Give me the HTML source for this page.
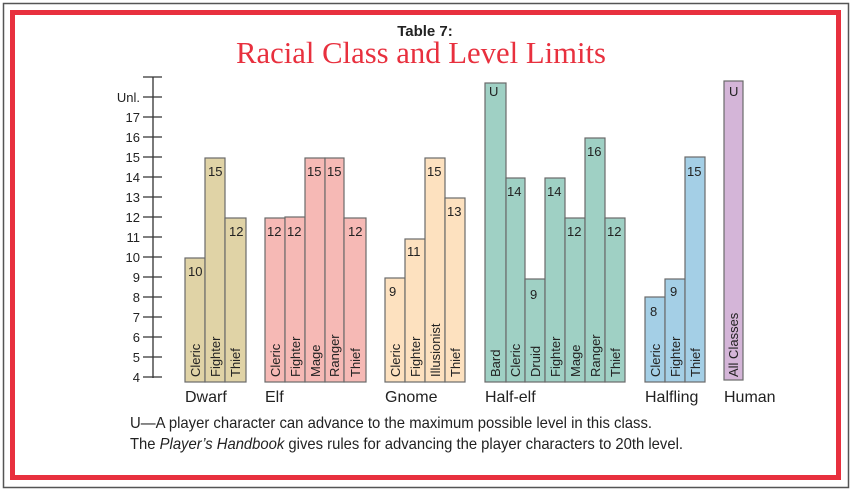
<!DOCTYPE html>
<html><head><meta charset="utf-8"><style>
body{margin:0;background:#fff}
svg{display:block}
text{font-family:"Liberation Sans Narrow","Liberation Sans",sans-serif;fill:#222}
</style></head><body>
<svg width="851" height="491" xmlns="http://www.w3.org/2000/svg">
<rect x="3.5" y="3.5" width="845" height="484" fill="#fff" stroke="#555" stroke-width="1.5"/>
<rect x="12.5" y="12.5" width="826" height="465" fill="none" stroke="#e8303e" stroke-width="5"/>
<text x="425" y="36" text-anchor="middle" font-family="Liberation Sans" font-weight="bold" font-size="15" style="font-family:'Liberation Sans',sans-serif">Table 7:</text>
<text x="236" y="63" textLength="370" lengthAdjust="spacingAndGlyphs" font-size="31" style="font-family:'Liberation Serif',serif;fill:#e8303e">Racial Class and Level Limits</text>
<g stroke="#333" stroke-width="1.3">
<line x1="153" y1="77" x2="153" y2="378"/>
<line x1="143" y1="77" x2="162" y2="77"/>
<line x1="143" y1="97" x2="162" y2="97"/>
<line x1="143" y1="117" x2="162" y2="117"/>
<line x1="143" y1="137" x2="162" y2="137"/>
<line x1="143" y1="157" x2="162" y2="157"/>
<line x1="143" y1="177" x2="162" y2="177"/>
<line x1="143" y1="197" x2="162" y2="197"/>
<line x1="143" y1="217" x2="162" y2="217"/>
<line x1="143" y1="237" x2="162" y2="237"/>
<line x1="143" y1="257" x2="162" y2="257"/>
<line x1="143" y1="277" x2="162" y2="277"/>
<line x1="143" y1="297" x2="162" y2="297"/>
<line x1="143" y1="317" x2="162" y2="317"/>
<line x1="143" y1="337" x2="162" y2="337"/>
<line x1="143" y1="357" x2="162" y2="357"/>
<line x1="143" y1="377" x2="162" y2="377"/>
</g>
<g font-size="13" text-anchor="end">
<text x="140" y="102">Unl.</text><text x="140" y="122">17</text><text x="140" y="142">16</text><text x="140" y="162">15</text><text x="140" y="182">14</text><text x="140" y="202">13</text><text x="140" y="222">12</text><text x="140" y="242">11</text><text x="140" y="262">10</text><text x="140" y="282">9</text><text x="140" y="302">8</text><text x="140" y="322">7</text><text x="140" y="342">6</text><text x="140" y="362">5</text><text x="140" y="382">4</text>
</g>
<g stroke="#6a6a6a" stroke-width="1.2">
<rect x="185" y="258" width="20" height="124" fill="#e0d3a6"/>
<rect x="205" y="158" width="20" height="224" fill="#e0d3a6"/>
<rect x="225" y="218" width="21" height="164" fill="#e0d3a6"/>
<rect x="265" y="218" width="20" height="164" fill="#f6b9b5"/>
<rect x="285" y="217" width="20" height="165" fill="#f6b9b5"/>
<rect x="305" y="158" width="20" height="224" fill="#f6b9b5"/>
<rect x="325" y="158" width="19" height="224" fill="#f6b9b5"/>
<rect x="344" y="218" width="22" height="164" fill="#f6b9b5"/>
<rect x="385" y="278" width="20" height="104" fill="#fde1bf"/>
<rect x="405" y="239" width="20" height="143" fill="#fde1bf"/>
<rect x="425" y="158" width="20" height="224" fill="#fde1bf"/>
<rect x="445" y="198" width="20" height="184" fill="#fde1bf"/>
<rect x="485" y="83" width="21" height="299" fill="#9fd0c4"/>
<rect x="506" y="178" width="19" height="204" fill="#9fd0c4"/>
<rect x="525" y="279" width="20" height="103" fill="#9fd0c4"/>
<rect x="545" y="178" width="20" height="204" fill="#9fd0c4"/>
<rect x="565" y="218" width="20" height="164" fill="#9fd0c4"/>
<rect x="585" y="138" width="20" height="244" fill="#9fd0c4"/>
<rect x="605" y="218" width="20" height="164" fill="#9fd0c4"/>
<rect x="645" y="297" width="20" height="85" fill="#a4cfe6"/>
<rect x="665" y="279" width="20" height="103" fill="#a4cfe6"/>
<rect x="685" y="157" width="20" height="225" fill="#a4cfe6"/>
<rect x="724" y="81" width="19" height="299" fill="#d4b5d8"/>
</g>
<g font-size="13">
<text x="188" y="276">10</text><text x="208" y="176">15</text><text x="229" y="236">12</text>
<text x="267" y="236">12</text><text x="287" y="236">12</text><text x="307" y="176">15</text><text x="327" y="176">15</text><text x="348" y="236">12</text>
<text x="389" y="296">9</text><text x="407" y="256">11</text><text x="427" y="176">15</text><text x="447" y="216">13</text>
<text x="489" y="96">U</text><text x="507" y="196">14</text><text x="530" y="299">9</text><text x="547" y="196">14</text><text x="567" y="236">12</text><text x="587" y="156">16</text><text x="607" y="236">12</text>
<text x="650" y="316">8</text><text x="670" y="296">9</text><text x="687" y="176">15</text>
<text x="729" y="96">U</text>
</g>
<g font-size="13">
<text transform="translate(200,377) rotate(-90)">Cleric</text>
<text transform="translate(220,377) rotate(-90)">Fighter</text>
<text transform="translate(240,377) rotate(-90)">Thief</text>
<text transform="translate(280,377) rotate(-90)">Cleric</text>
<text transform="translate(300,377) rotate(-90)">Fighter</text>
<text transform="translate(320,377) rotate(-90)">Mage</text>
<text transform="translate(339,377) rotate(-90)">Ranger</text>
<text transform="translate(360,377) rotate(-90)">Thief</text>
<text transform="translate(400,377) rotate(-90)">Cleric</text>
<text transform="translate(420,377) rotate(-90)">Fighter</text>
<text transform="translate(440,377) rotate(-90)">Illusionist</text>
<text transform="translate(460,377) rotate(-90)">Thief</text>
<text transform="translate(500,377) rotate(-90)">Bard</text>
<text transform="translate(520,377) rotate(-90)">Cleric</text>
<text transform="translate(540,377) rotate(-90)">Druid</text>
<text transform="translate(560,377) rotate(-90)">Fighter</text>
<text transform="translate(580,377) rotate(-90)">Mage</text>
<text transform="translate(600,377) rotate(-90)">Ranger</text>
<text transform="translate(620,377) rotate(-90)">Thief</text>
<text transform="translate(660,377) rotate(-90)">Cleric</text>
<text transform="translate(680,377) rotate(-90)">Fighter</text>
<text transform="translate(700,377) rotate(-90)">Thief</text>
<text transform="translate(738,377) rotate(-90)">All Classes</text>
</g>
<g font-size="16">
<text x="185" y="402">Dwarf</text><text x="265" y="402">Elf</text><text x="385" y="402">Gnome</text><text x="485" y="402">Half-elf</text><text x="645" y="402">Halfling</text><text x="724" y="402">Human</text>
</g>
<text x="130" y="428" font-size="16" textLength="522" lengthAdjust="spacingAndGlyphs">U—A player character can advance to the maximum possible level in this class.</text>
<text x="130" y="449" font-size="16" textLength="553" lengthAdjust="spacingAndGlyphs">The <tspan font-style="italic">Player’s Handbook</tspan> gives rules for advancing the player characters to 20th level.</text>
</svg>
</body></html>
